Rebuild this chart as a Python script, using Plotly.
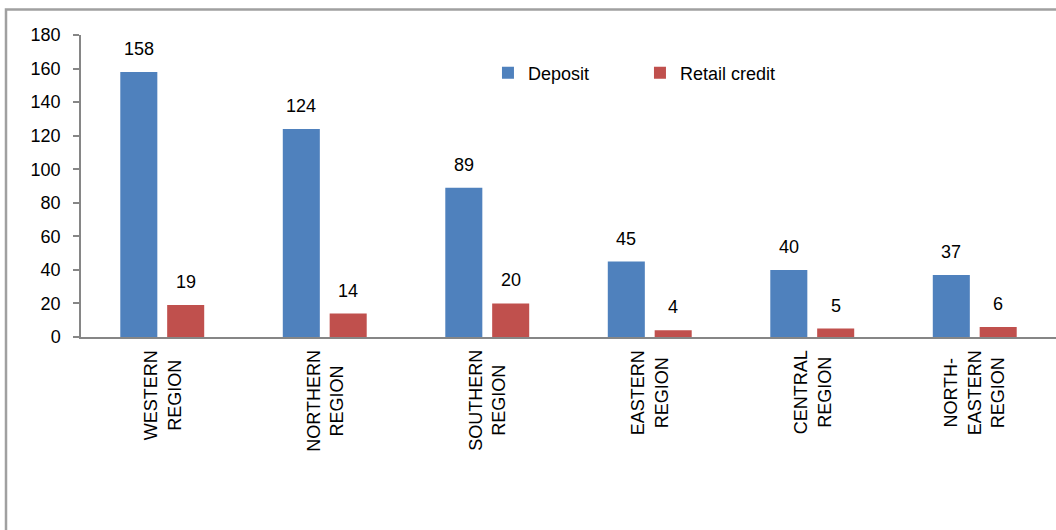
import plotly.graph_objects as go

categories = ["WESTERN REGION", "NORTHERN REGION", "SOUTHERN REGION",
              "EASTERN REGION", "CENTRAL REGION", "NORTH-EASTERN REGION"]
category_labels = ["WESTERN<br>REGION", "NORTHERN<br>REGION", "SOUTHERN<br>REGION",
                   "EASTERN<br>REGION", "CENTRAL<br>REGION", "NORTH-<br>EASTERN<br>REGION"]
deposit = [158, 124, 89, 45, 40, 37]
retail_credit = [19, 14, 20, 4, 5, 6]
y_ticks = [0, 20, 40, 60, 80, 100, 120, 140, 160, 180]

FONT = "Arial, 'Liberation Sans', sans-serif"
BLUE = "#4F81BD"
RED = "#C0504D"
AXIS = "#868686"

fig = go.Figure()
fig.add_trace(go.Bar(name="Deposit", x=categories, y=deposit, marker_color=BLUE,
                     marker_line_width=0))
fig.add_trace(go.Bar(name="Retail credit", x=categories, y=retail_credit, marker_color=RED,
                     marker_line_width=0))

annotations = []
for cat, v in zip(categories, deposit):
    annotations.append(dict(x=cat, y=v, xref="x", yref="y", text=str(v), showarrow=False,
                            xshift=-23.5, yshift=11, yanchor="bottom",
                            font=dict(family=FONT, size=18, color="#000")))
for cat, v in zip(categories, retail_credit):
    annotations.append(dict(x=cat, y=v, xref="x", yref="y", text=str(v), showarrow=False,
                            xshift=23.5, yshift=11, yanchor="bottom",
                            font=dict(family=FONT, size=18, color="#000")))
for cat, lab in zip(categories, category_labels):
    annotations.append(dict(x=cat, y=0, xref="x", yref="y", text=lab, showarrow=False,
                            textangle=-90, align="center", yanchor="top", xanchor="center",
                            yshift=-11, font=dict(family=FONT, size=18, color="#000")))

fig.update_layout(
    width=1056, height=530,
    margin=dict(l=81, r=0, t=35, b=193),
    paper_bgcolor="white", plot_bgcolor="white",
    barmode="group", bargap=0.423, bargroupgap=0.21,
    font=dict(family=FONT, size=18, color="#000"),
    showlegend=True,
    legend=dict(orientation="h", x=0.4174, y=0.874, xanchor="left", yanchor="middle",
                font=dict(family=FONT, size=18, color="#000"),
                bgcolor="rgba(0,0,0,0)", itemwidth=30, traceorder="normal",
                entrywidth=107, entrywidthmode="pixels"),
    xaxis=dict(range=[-0.5, 5.5], showline=True, linecolor=AXIS, linewidth=1.5,
               ticks="", showticklabels=False, showgrid=False, zeroline=False,
               fixedrange=True),
    yaxis=dict(range=[0, 180], tickvals=y_ticks, showline=True, linecolor=AXIS, linewidth=1.5,
               ticks="outside", ticklen=6, tickcolor=AXIS, tickwidth=1.5,
               ticklabelstandoff=9, showgrid=False, zeroline=False,
               tickfont=dict(family=FONT, size=18, color="#000")),
    annotations=annotations,
    shapes=[dict(type="rect", xref="paper", yref="paper",
                 x0=(6 - 81) / 975, x1=(1070 - 81) / 975,
                 y0=(337 - 560) / 302, y1=(337 - 9.5) / 302,
                 line=dict(color="#A0A0A0", width=2.5), fillcolor="rgba(0,0,0,0)",
                 layer="below")],
)

fig.write_html("out.html")
